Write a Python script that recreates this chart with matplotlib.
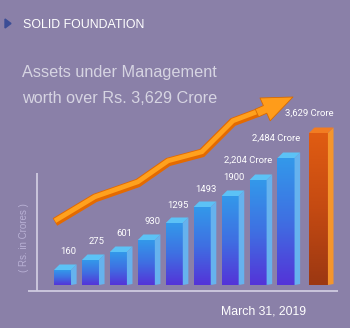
import numpy as np
import matplotlib
matplotlib.use('Agg')
import matplotlib.pyplot as plt
from matplotlib.colors import LinearSegmentedColormap

# Chart data (bar heights, labels as printed)
labels = ['160', '275', '601', '930', '1295', '1493', '1900',
          '2,204 Crore', '2,484 Crore', '3,629 Crore']
bar_heights = [15, 25, 33, 45, 62, 78, 89, 105, 127, 152]

# Trend arrow path (x in bar index units, y in same units as bars)
trend_x = [-0.27, 1.16, 2.70, 3.78, 4.99, 6.10, 6.96]
trend_y = [63, 87, 102, 123, 132, 163, 172]
arrow_tip = (8.25, 188)

bg = '#8a80a8'
W, H = 350, 328

fig = plt.figure(figsize=(W / 100, H / 100), dpi=100, facecolor=bg)

# Overlay axes in pixel coordinates for texts and axis lines
deco = fig.add_axes([0, 0, 1, 1])
deco.set_xlim(0, W)
deco.set_ylim(H, 0)
deco.axis('off')
deco.patch.set_alpha(0)

# Header
deco.fill([5, 11, 5], [19, 23.5, 28], color='#3b4d96')
deco.text(23, 28, 'SOLID FOUNDATION', fontsize=8.9, color='white',
          family='Liberation Sans', va='baseline')
deco.text(22, 77, 'Assets under Management', fontsize=11.7, color='#d6d4e2',
          family='Liberation Sans', va='baseline')
deco.text(22, 103, 'worth over Rs. 3,629 Crore', fontsize=11.7, color='#d6d4e2',
          family='Liberation Sans', va='baseline')

# Axis lines
deco.plot([37, 37], [173, 291], color='#cfcbe0', lw=1.3, solid_capstyle='butt')
deco.plot([28, 338], [291, 291], color='#cfcbe0', lw=1.3, solid_capstyle='butt')
deco.text(24, 238, '( Rs. in Crores )', rotation=90, fontsize=7,
          color='#b8b0d4', family='Liberation Sans', ha='center', va='center')
deco.text(221, 314, 'March 31, 2019', fontsize=8.8, color='white',
          family='Liberation Sans', va='baseline')

# Data axes: one x unit = 27.94 px, one y unit = 1 px
step = 27.94
x0_px, base_px = 62.5, 285
xlo, xhi = -0.5, 9.8
ax = fig.add_axes([(x0_px + xlo * step) / W, (H - base_px) / H,
                   (xhi - xlo) * step / W, 200 / H])
ax.set_xlim(xlo, xhi)
ax.set_ylim(0, 200)
ax.axis('off')
ax.patch.set_alpha(0)

xs = np.arange(len(bar_heights), dtype=float)
xs[-1] += 0.16

blue_front = LinearSegmentedColormap.from_list('bf', ['#5434d8', '#3f6fe2', '#3398ea'])
orange_front = LinearSegmentedColormap.from_list('of', ['#9c3812', '#c44a12', '#e05c12'])
grad = np.linspace(0, 1, 64).reshape(-1, 1)

dx, dy = 0.2, 5.5
for i, (x, h) in enumerate(zip(xs, bar_heights)):
    last = i == len(bar_heights) - 1
    w = 0.68 if last else 0.61
    cmap = orange_front if last else blue_front
    side_c = '#f4952c' if last else '#66b2ee'
    top_c = '#f27c22' if last else '#5cc2f6'
    l, r = x - w / 2, x + w / 2
    ax.imshow(grad, extent=[l, r, 0, h], origin='lower', cmap=cmap,
              aspect='auto', interpolation='bicubic', zorder=3)
    ax.fill([r, r + dx, r + dx, r], [0, 1, h + dy, h], color=side_c, lw=0, zorder=3)
    ax.fill([l, r, r + dx, l + dx], [h, h, h + dy, h + dy], color=top_c, lw=0, zorder=3)
    gap = 10 if 'Crore' in labels[i] else 8
    ax.text(r + dx, h + dy + gap, labels[i], fontsize=6.8, color='white',
            family='Roboto', ha='right', va='bottom', zorder=4)

# Trend arrow
ax.plot(trend_x, trend_y, color='#e46a00', lw=6.3, solid_joinstyle='miter',
        solid_capstyle='butt', zorder=2)
ax.plot(trend_x, [v + 1.2 for v in trend_y], color='#ffa11e', lw=3.4,
        solid_joinstyle='miter', solid_capstyle='butt', zorder=2)
ax.annotate('', xy=arrow_tip, xytext=(trend_x[-1], trend_y[-1]),
            arrowprops=dict(arrowstyle='simple,head_length=1.1,head_width=0.9,tail_width=0.3',
                            mutation_scale=20, fc='#ff9c1a', ec='#d86a00', lw=0.6,
                            shrinkA=0, shrinkB=0),
            zorder=2)

fig.savefig('out.png', dpi=100, facecolor=bg)
